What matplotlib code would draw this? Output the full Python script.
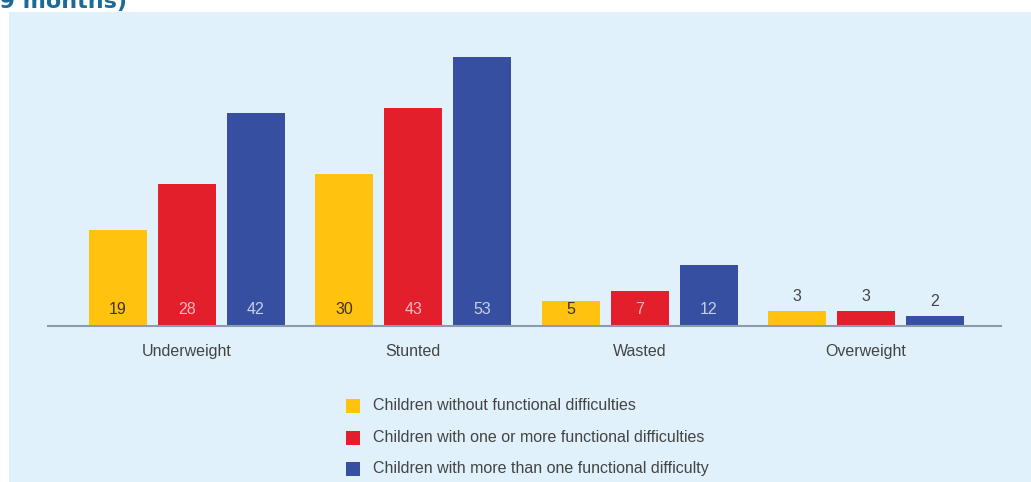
import matplotlib.pyplot as plt
import matplotlib.patches as patches
import numpy as np

categories = ['Underweight', 'Stunted', 'Wasted', 'Overweight']
without_diff = [19, 30, 5, 3]
one_or_more = [28, 43, 7, 3]
more_than_one = [42, 53, 12, 2]
series_names = ['Children without functional difficulties',
                'Children with one or more functional difficulties',
                'Children with more than one functional difficulty']

colors = ['#FFC20E', '#E21F2B', '#364FA1']
label_colors = ['#3a3520', '#f6b9bd', '#c8cfe9']
bg = '#E0F1FB'
txt = '#444444'

plt.rcParams['font.family'] = ['Liberation Sans', 'DejaVu Sans']

W, H = 1031, 482
fig = plt.figure(figsize=(W / 100, H / 100), dpi=100)
fig.patch.set_facecolor('white')

# light blue panel, behind the axes
fig.patches.append(patches.Rectangle((9 / W, 0), 1 - 9 / W, (H - 12) / H,
                                     transform=fig.transFigure, fc=bg, ec='none', zorder=-5))

# clipped title fragment
fig.text(127 / W, (H - 8) / H, '(0\u201359 months)', ha='right', va='baseline',
         fontsize=16, fontweight='bold', color='#1c6a96', family='DejaVu Sans')

ax = fig.add_axes([48 / W, (H - 326) / H, 953 / W, 286 / H])
ax.set_facecolor('none')
ax.set_xlim(-0.614, 3.597)
ax.set_ylim(0, 286 / 5.07)

x = np.arange(len(categories))
pitch = 0.305
width = 0.256
series = [without_diff, one_or_more, more_than_one]
for i, vals in enumerate(series):
    xs = x + (i - 1) * pitch
    ax.bar(xs, vals, width, color=colors[i], label=series_names[i], zorder=2)
    for xx, v in zip(xs, vals):
        if v >= 5:
            ax.text(xx, 3.2, str(v), ha='center', va='center', fontsize=11.5,
                    color=label_colors[i], zorder=3)
        else:
            ax.annotate(str(v), (xx, v), xytext=(0, 5), textcoords='offset points',
                        ha='center', va='bottom', fontsize=11.5, color=txt)

for s in ['top', 'right', 'left']:
    ax.spines[s].set_visible(False)
ax.spines['bottom'].set_color('#8c9bb0')
ax.spines['bottom'].set_linewidth(1.5)
ax.set_yticks([])
ax.set_xticks(x)
ax.set_xticklabels(categories, fontsize=11.5, color=txt)
ax.tick_params(axis='x', length=0, pad=13)

# legend
ys = [406, 438, 469]
for i in range(3):
    fig.patches.append(patches.Rectangle((346 / W, (H - ys[i] - 7) / H), 14 / W, 14 / H,
                                         transform=fig.transFigure, fc=colors[i], ec='none'))
    fig.text(373 / W, (H - ys[i]) / H, series_names[i], ha='left', va='center',
             fontsize=11.5, color=txt)

fig.savefig('out.png', dpi=100, facecolor=fig.get_facecolor())
